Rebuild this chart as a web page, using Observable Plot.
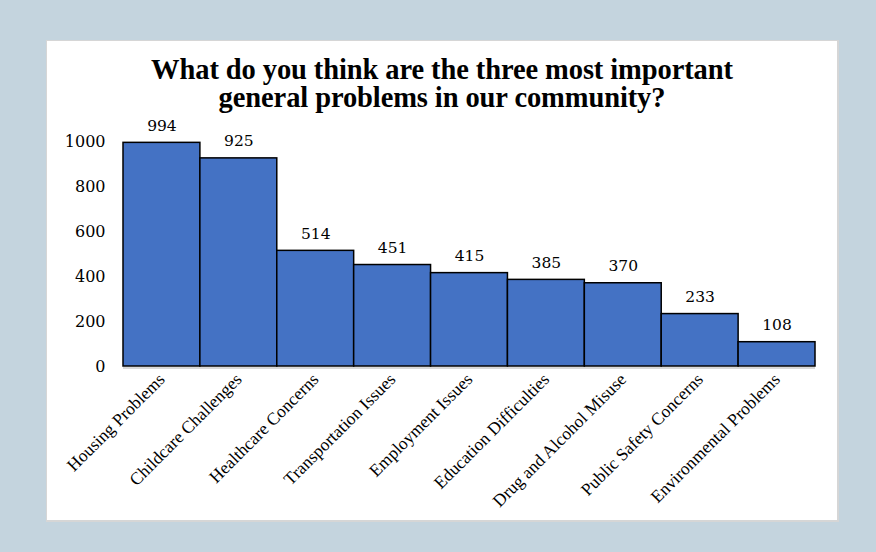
<!DOCTYPE html>
<html>
<head>
<meta charset="utf-8">
<script src="https://cdn.jsdelivr.net/npm/d3@7"></script>
<script src="https://cdn.jsdelivr.net/npm/@observablehq/plot@0.6"></script>
<style>
  html, body { margin: 0; padding: 0; }
  body { width: 876px; height: 552px; background: #c4d4de; position: relative; overflow: hidden; }
  #panel { position: absolute; left: 46px; top: 40px; width: 790px; height: 479px; background: #fff; border: 1px solid #d6d6d6; border-right-width: 2px; border-bottom-width: 2px; }
  #title { position: absolute; left: 0; top: 15px; width: 790px; text-align: center; font-family: "Liberation Serif", serif; font-weight: bold; font-size: 28.5px; line-height: 28px; color: #000; letter-spacing: -0.1px; }
  #chart { position: absolute; left: 0; top: 74px; }
</style>
</head>
<body>
<div id="panel">
  <div id="title">What do you think are the three most important<br>general problems in our community?</div>
  <div id="chart"></div>
</div>
<script>
const categories = ["Housing Problems", "Childcare Challenges", "Healthcare Concerns", "Transportation Issues", "Employment Issues", "Education Difficulties", "Drug and Alcohol Misuse", "Public Safety Concerns", "Environmental Problems"];
const counts = [994, 925, 514, 451, 415, 385, 370, 233, 108];
const yTicks = [0, 200, 400, 600, 800, 1000];

const data = categories.map((c, i) => ({category: c, count: counts[i]}));

const chart = Plot.plot({
  width: 790,
  height: 405,
  marginLeft: 76,
  marginRight: 22,
  marginTop: 26,
  marginBottom: 154,
  style: {background: "transparent", overflow: "visible"},
  x: {domain: categories, padding: 0, round: false},
  y: {domain: [0, 1000]},
  marks: [
    Plot.barY(data, {x: "category", y: "count", fill: "#4472c4", stroke: "#000", strokeWidth: 1.5}),
    Plot.ruleY([0], {stroke: "#d9d9d9", strokeWidth: 2, dy: 1.5}),
    Plot.text(data, {x: "category", y: "count", text: d => String(d.count), dy: -17, fontFamily: "DejaVu Serif", fontSize: 15.5, fill: "#000"}),
    Plot.axisY({ticks: yTicks, tickFormat: d3.format("d"), tickSize: 0, tickPadding: 18, fontFamily: "DejaVu Serif", fontSize: 16, color: "#000", label: null}),
    Plot.axisX({tickSize: 0, tickPadding: 10, tickRotate: -45, fontFamily: "Liberation Serif", fontSize: 17.5, color: "#000", label: null})
  ]
});
chart.querySelectorAll("text").forEach(t => t.setAttribute("fill", "#000"));
document.getElementById("chart").appendChild(chart);
</script>
</body>
</html>
